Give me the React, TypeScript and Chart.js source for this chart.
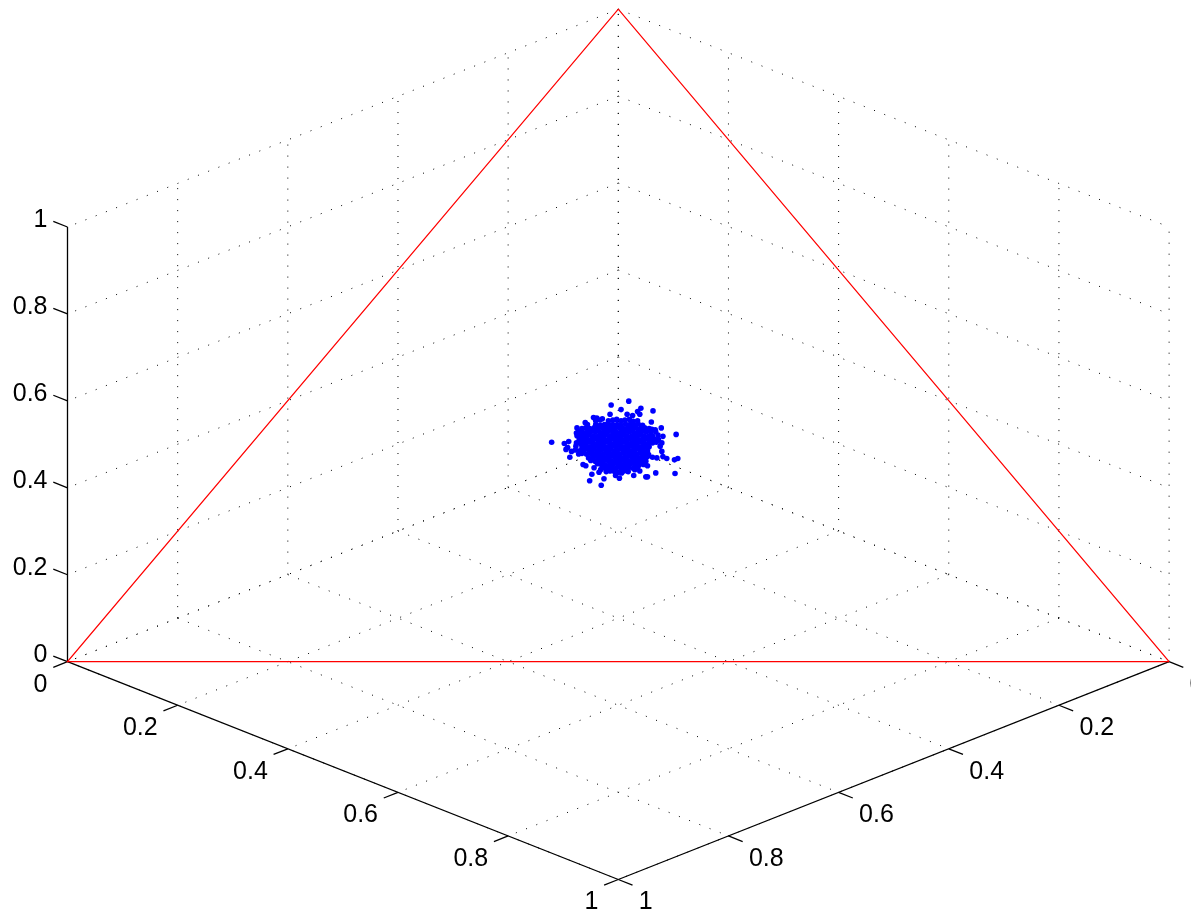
import React, { useEffect, useRef } from "react";
import { Chart, registerables } from "chart.js";

Chart.register(...registerables);

// Ternary-simplex triangle vertices (x, y, z)
const simplexVertices = [
  [1, 0, 0],
  [0, 1, 0],
  [0, 0, 1],
  [1, 0, 0],
];

// Axis ticks and their labels
const gridTicks = [0, 0.2, 0.4, 0.6, 0.8, 1];
const tickLabels = ["0", "0.2", "0.4", "0.6", "0.8", "1"];

// Samples: [x - y, x + y - 2/3], in thousandths. z = 1 - x - y.
const clusterSamples = [
  [-121, -3], [-13, -60], [19, -66], [5, -53], [41, -55], [63, -51], [39, -46], [35, -50], [-15, -46], [60, -34],
  [78, -25], [105, -15], [103, 45], [102, 24], [108, 22], [88, 22], [68, 44], [53, 50], [50, 50], [39, 41],
  [28, 48], [30, 39], [2, 52], [-5, 48], [-31, 63], [-52, 56], [-48, 46], [-26, 53], [-35, 43], [-32, 39],
  [-64, 31], [-59, 33], [-44, 36], [-88, 20], [-95, 8], [-92, 5], [-98, -1], [-90, -4], [-85, 11], [-75, -25],
  [-76, -17], [-60, -33], [-45, -41], [-39, -40], [-29, -39], [-70, -19], [16, -46], [26, -44], [61, -23], [67, -22],
  [81, -12], [79, -2], [76, 3], [79, 11], [81, 19], [70, 21], [53, 33], [39, 27], [18, 42], [6, 44], [-12, 39],
  [-41, -36], [-33, -37], [-18, -36], [-10, -37], [-3, -38], [5, -36], [12, -37], [20, -38], [27, -35], [35, -36],
  [-56, -30], [-41, -30], [-33, -29], [-25, -30], [-18, -31], [-10, -30], [-2, -30], [5, -29], [13, -31], [21, -30], [28, -30], [36, -31], [44, -29],
  [-66, -24], [-59, -25], [-52, -24], [-44, -25], [-37, -24], [-29, -25], [-21, -24], [-14, -25], [-6, -24], [2, -25], [9, -24], [17, -25], [25, -24], [32, -25], [40, -24], [48, -25], [56, -24],
  [-72, -19], [-64, -18], [-56, -19], [-49, -20], [-41, -19], [-33, -18], [-26, -19], [-18, -20], [-10, -19], [-3, -18], [5, -19], [13, -20], [20, -19], [28, -18], [36, -19], [43, -20], [51, -19], [59, -18], [68, -19],
  [-75, -13], [-68, -12], [-60, -13], [-53, -14], [-45, -13], [-37, -12], [-30, -13], [-22, -14], [-14, -13], [-7, -12], [1, -13], [9, -14], [16, -13], [24, -12], [32, -13], [39, -14], [47, -13], [55, -12], [62, -13], [72, -14],
  [-71, -8], [-65, -7], [-57, -8], [-49, -7], [-41, -8], [-34, -7], [-26, -8], [-18, -7], [-11, -8], [-3, -7], [5, -8], [12, -7], [20, -8], [28, -7], [35, -8], [43, -7], [51, -8], [58, -7], [66, -8], [73, -7],
  [-76, -2], [-69, -1], [-61, -2], [-53, -3], [-46, -2], [-38, -1], [-30, -2], [-23, -3], [-15, -2], [-7, -1], [0, -2], [8, -3], [16, -2], [23, -1], [31, -2], [39, -3], [46, -2], [54, -1], [62, -2], [69, -3],
  [-77, 3], [-66, 4], [-58, 3], [-50, 4], [-42, 3], [-35, 4], [-27, 3], [-19, 4], [-12, 3], [-4, 4], [4, 3], [11, 4], [19, 3], [27, 4], [34, 3], [42, 4], [50, 3], [56, 4],
  [-78, 9], [-70, 10], [-62, 9], [-54, 8], [-47, 9], [-39, 10], [-31, 9], [-24, 8], [-16, 9], [-8, 10], [-1, 9], [7, 8], [15, 9], [22, 10], [30, 9], [38, 8], [45, 9], [53, 10],
  [-72, 15], [-66, 14], [-58, 15], [-50, 14], [-43, 15], [-35, 14], [-27, 15], [-20, 14], [-12, 15], [-4, 14], [3, 15], [11, 14], [19, 15], [26, 14], [34, 15], [42, 14], [49, 15], [55, 16],
  [-54, 21], [-46, 20], [-39, 19], [-31, 20], [-23, 21], [-16, 20], [-8, 19], [0, 20], [7, 21], [15, 20], [23, 19], [30, 20], [38, 21], [46, 20], [53, 19], [62, 20],
  [-50, 25], [-42, 26], [-35, 25], [-27, 26], [-19, 25], [-12, 26], [-4, 25], [4, 26], [11, 25], [19, 26], [27, 25], [34, 26], [42, 25], [50, 26],
  [-38, 30], [-31, 31], [-23, 32], [-15, 31], [-8, 30], [0, 31], [8, 32], [15, 31], [23, 30], [31, 31], [38, 32], [46, 31],
  [-27, 36], [-19, 37], [-11, 36], [-4, 37], [4, 36], [12, 37], [19, 36], [27, 37], [35, 36],
  [-22, 42], [-15, 41], [-7, 42], [0, 43], [8, 42], [16, 41],
];

// Camera: pixels per data unit along the floor edges and the vertical axis
const CANVAS_W = 1191;
const CANVAS_H = 914;
const PX_PER_UNIT = 550.8;
const BACK_X = 618.3;
const BACK_Y = 443.9;
const FLOOR_DROP = 217.8 / PX_PER_UNIT;
const RISE = 434.7 / PX_PER_UNIT;
const TICK_LEN = 0.0258;

type P3 = number[];
const project = ([x, y, z]: P3) => ({ x: x - y, y: RISE * z - FLOOR_DROP * (x + y) });
const path = (pts: P3[]) => pts.map(project);

const gridLines: P3[][] = gridTicks.flatMap((t) => [
  [[t, 0, 0], [t, 1, 0]],
  [[0, t, 0], [1, t, 0]],
  [[0, t, 0], [0, t, 1]],
  [[0, 0, t], [0, 1, t]],
  [[t, 0, 0], [t, 0, 1]],
  [[0, 0, t], [1, 0, t]],
]);

const axisLines: P3[][] = [
  [[0, 1, 0], [1, 1, 0]],
  [[1, 0, 0], [1, 1, 0]],
  [[0, 1, 0], [0, 1, 1]],
  ...gridTicks.flatMap((t) => [
    [[t, 1, 0], [t, 1 + TICK_LEN, 0]],
    [[1, t, 0], [1 + TICK_LEN, t, 0]],
    [[0, 1, t], [-TICK_LEN, 1, t]],
  ]),
];

const labelPlugin = {
  id: "axisLabels",
  afterDatasetsDraw(chart: any) {
    const { ctx, scales } = chart;
    const at = (p: P3) => {
      const q = project(p);
      return [scales.x.getPixelForValue(q.x), scales.y.getPixelForValue(q.y)];
    };
    ctx.save();
    ctx.font = '25px "Liberation Sans", Arial, sans-serif';
    ctx.fillStyle = "#000";
    ctx.textBaseline = "middle";
    gridTicks.forEach((t, i) => {
      const s = tickLabels[i];
      let [px, py] = at([0, 1, t]);
      ctx.textAlign = "right";
      ctx.fillText(s, px - 20, py - 6.5);
      [px, py] = at([t, 1, 0]);
      ctx.fillText(s, px - 20, py + 23);
      [px, py] = at([1, t, 0]);
      ctx.textAlign = "left";
      ctx.fillText(s, px + 20.5, py + 23);
    });
    ctx.restore();
  },
};

export default function App() {
  const ref = useRef<HTMLCanvasElement>(null);
  useEffect(() => {
    const line = (pts: P3[], color: string, dash: number[] = [], width = 1) => ({
      type: "scatter",
      data: path(pts),
      showLine: true,
      borderColor: color,
      borderWidth: width,
      borderDash: dash,
      pointRadius: 0,
      tension: 0,
      fill: false,
    });
    const chart = new Chart(ref.current!, {
      type: "scatter",
      data: {
        datasets: [
          {
            data: clusterSamples.map(([d, s]) => {
              const sum = 2 / 3 + s / 1000;
              const diff = d / 1000;
              return project([(sum + diff) / 2, (sum - diff) / 2, 1 - sum]);
            }),
            backgroundColor: "#0000ff",
            borderColor: "#0000ff",
            borderWidth: 0,
            pointRadius: 2.8,
            showLine: false,
          },
          line(simplexVertices, "#ff0000", [], 1.3),
          ...axisLines.map((l) => line(l, "#000000", [], 1.3)),
          ...gridLines.map((l) => line(l, "#000000", [1, 10])),
        ] as any,
      },
      options: {
        animation: false,
        responsive: false,
        devicePixelRatio: 1,
        layout: { padding: 0, autoPadding: false },
        plugins: { legend: { display: false }, tooltip: { enabled: false }, title: { display: false } },
        scales: {
          x: { type: "linear", display: false, min: -BACK_X / PX_PER_UNIT, max: (CANVAS_W - BACK_X) / PX_PER_UNIT },
          y: { type: "linear", display: false, min: -(CANVAS_H - BACK_Y) / PX_PER_UNIT, max: BACK_Y / PX_PER_UNIT },
        },
      },
      plugins: [labelPlugin],
    });
    return () => chart.destroy();
  }, []);
  return (
    <div style={{ position: "absolute", left: 0, top: 0, width: CANVAS_W, height: CANVAS_H, overflow: "hidden", background: "#fff" }}>
      <canvas ref={ref} width={CANVAS_W} height={CANVAS_H} style={{ display: "block" }} />
    </div>
  );
}
